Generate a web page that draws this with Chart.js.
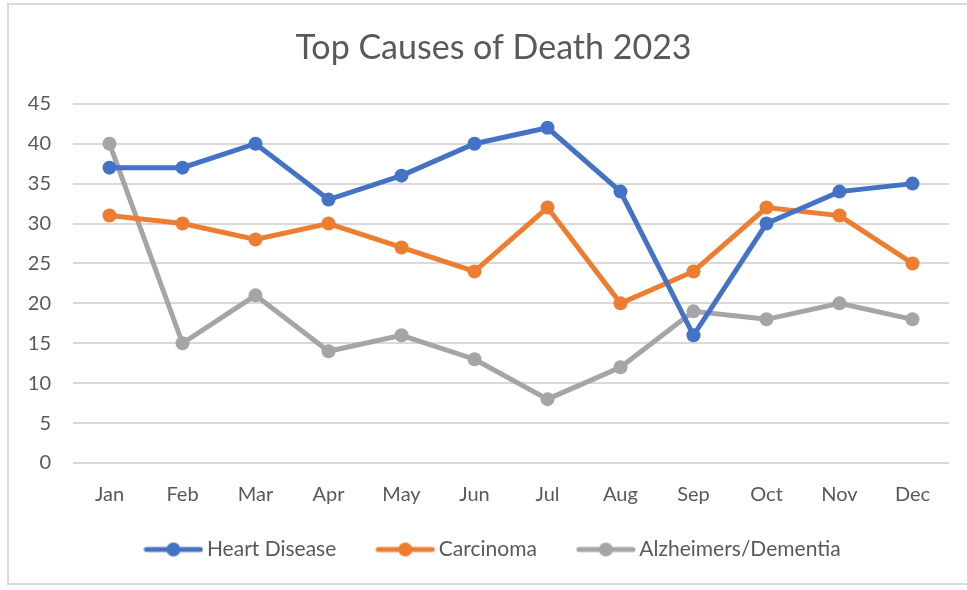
<!DOCTYPE html>
<html>
<head>
<meta charset="utf-8">
<script src="https://cdn.jsdelivr.net/npm/chart.js@4"></script>
<style>
  html, body { margin: 0; padding: 0; background: #fff; }
  #frame {
    position: absolute; left: 7px; top: 3px; width: 962px; height: 582px;
    border: 2px solid #d9d9d9; box-sizing: border-box;
  }
  #wrap { position: absolute; left: 0; top: 0; width: 967px; height: 590px; }
</style>
</head>
<body>
<div id="frame"></div>
<div id="wrap"><canvas id="chart" width="967" height="590"></canvas></div>
<script>
// --- Data ---
const months = ['Jan', 'Feb', 'Mar', 'Apr', 'May', 'Jun', 'Jul', 'Aug', 'Sep', 'Oct', 'Nov', 'Dec'];
const heartDisease = [37, 37, 40, 33, 36, 40, 42, 34, 16, 30, 34, 35];
const carcinoma = [31, 30, 28, 30, 27, 24, 32, 20, 24, 32, 31, 25];
const alzheimers = [40, 15, 21, 14, 16, 13, 8, 12, 19, 18, 20, 18];
const yTicks = [0, 5, 10, 15, 20, 25, 30, 35, 40, 45];

const textColor = '#595959';
const fontFamily = 'Lato, "Open Sans", sans-serif';

// legend marker: a short thick line with a dot in the middle
function legendMarker(color) {
    const c = document.createElement('canvas');
    c.width = 60; c.height = 16;
    const ctx = c.getContext('2d');
    ctx.strokeStyle = color;
    ctx.lineWidth = 5;
    ctx.lineCap = 'round';
    ctx.beginPath();
    ctx.moveTo(3, 8);
    ctx.lineTo(57, 8);
    ctx.stroke();
    ctx.fillStyle = color;
    ctx.beginPath();
    ctx.arc(30, 8, 7, 0, Math.PI * 2);
    ctx.fill();
    return c;
}

function series(label, data, color) {
    return {
        label: label,
        data: data,
        borderColor: color,
        backgroundColor: color,
        borderWidth: 5,
        pointRadius: 7,
        pointHoverRadius: 7,
        pointBorderWidth: 0,
        tension: 0,
        fill: false
    };
}

// nudge title + legend to where the original sits (slightly right of the plot centre, legend a bit higher)
const nudgeBlocks = {
    id: 'nudgeBlocks',
    afterLayout(ch) {
        const t = ch.titleBlock;
        if (t) { t.left += 19; t.right += 19; }
        const lg = ch.legend;
        if (lg) { lg.left += 21; lg.right += 21; lg.top -= 20; lg.bottom -= 20; }
    }
};

const chart = new Chart(document.getElementById('chart'), {
    type: 'line',
    data: {
        labels: months,
        datasets: [
            series('Heart Disease', heartDisease, '#4472C4'),
            series('Carcinoma', carcinoma, '#ED7D31'),
            series('Alzheimers/Dementia', alzheimers, '#A5A5A5')
        ]
    },
    options: {
        responsive: false,
        animation: false,
        layout: { padding: { left: 0, right: 18, top: 0, bottom: 0 } },
        scales: {
            x: {
                offset: true,
                grid: { display: false, drawTicks: false },
                border: { display: false },
                ticks: { color: textColor, font: { family: fontFamily, size: 20 }, padding: 20 },
                afterFit: (scale) => { scale.height = 50; }
            },
            y: {
                min: 0,
                max: 45,
                afterBuildTicks: (scale) => { scale.ticks = yTicks.map(v => ({ value: v })); },
                grid: { color: '#d9d9d9', lineWidth: 2, drawTicks: false },
                border: { display: false },
                ticks: { color: textColor, font: { family: fontFamily, size: 20 }, padding: 22 },
                afterFit: (scale) => { scale.width = 73; }
            }
        },
        plugins: {
            title: {
                display: true,
                text: 'Top Causes of Death 2023',
                color: textColor,
                font: { family: fontFamily, size: 34, weight: 'normal' },
                padding: { top: 28, bottom: 35 }
            },
            legend: {
                position: 'bottom',
                labels: {
                    color: textColor,
                    font: { family: fontFamily, size: 21 },
                    usePointStyle: true,
                    pointStyleWidth: 46,
                    padding: 46,
                    generateLabels: (ch) => {
                        const items = Chart.defaults.plugins.legend.labels.generateLabels(ch);
                        items.forEach(it => {
                            it.pointStyle = legendMarker(ch.data.datasets[it.datasetIndex].borderColor);
                        });
                        return items;
                    }
                }
            },
            tooltip: { enabled: false }
        }
    },
    plugins: [nudgeBlocks]
});
</script>
</body>
</html>
